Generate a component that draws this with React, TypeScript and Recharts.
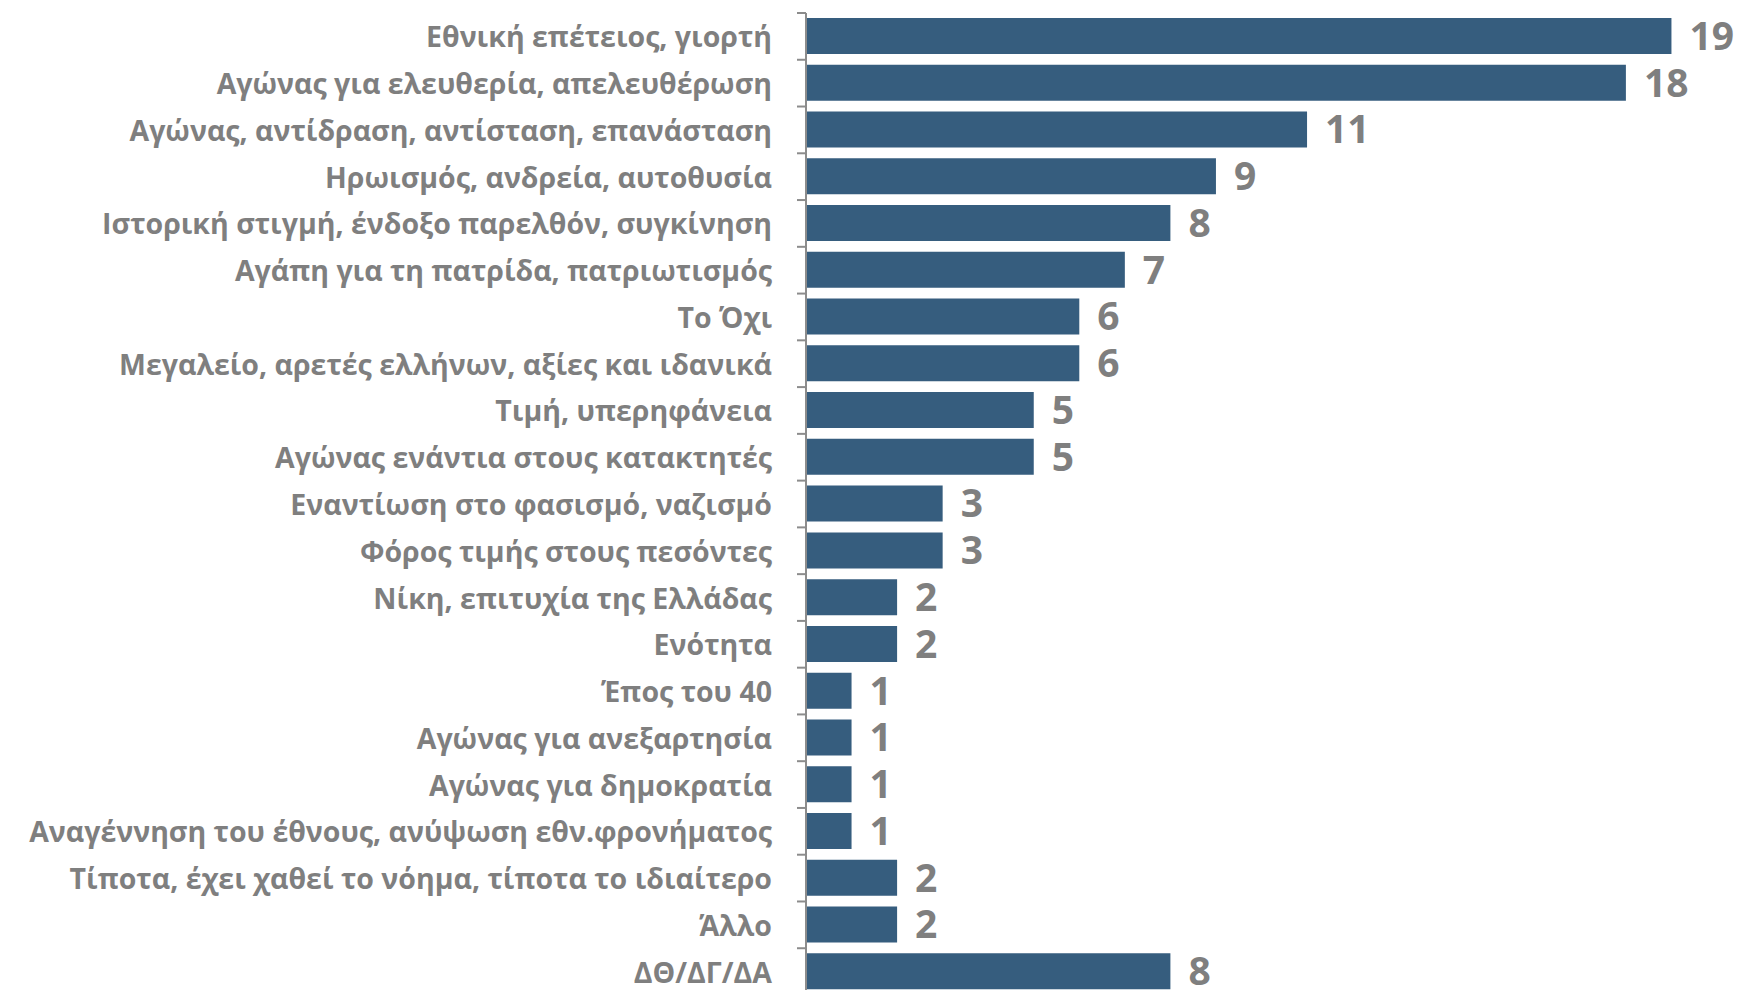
import { BarChart, Bar, XAxis, YAxis, LabelList } from 'recharts'

const categories = [
  'Εθνική επέτειος, γιορτή',
  'Αγώνας για ελευθερία, απελευθέρωση',
  'Αγώνας, αντίδραση, αντίσταση, επανάσταση',
  'Ηρωισμός, ανδρεία, αυτοθυσία',
  'Ιστορική στιγμή, ένδοξο παρελθόν, συγκίνηση',
  'Αγάπη για τη πατρίδα, πατριωτισμός',
  'Το Όχι',
  'Μεγαλείο, αρετές ελλήνων, αξίες και ιδανικά',
  'Τιμή, υπερηφάνεια',
  'Αγώνας ενάντια στους κατακτητές',
  'Εναντίωση στο φασισμό, ναζισμό',
  'Φόρος τιμής στους πεσόντες',
  'Νίκη, επιτυχία της Ελλάδας',
  'Ενότητα',
  'Έπος του 40',
  'Αγώνας για ανεξαρτησία',
  'Αγώνας για δημοκρατία',
  'Αναγέννηση του έθνους, ανύψωση εθν.φρονήματος',
  'Τίποτα, έχει χαθεί το νόημα, τίποτα το ιδιαίτερο',
  'Άλλο',
  'ΔΘ/ΔΓ/ΔΑ',
]

const values = [19, 18, 11, 9, 8, 7, 6, 6, 5, 5, 3, 3, 2, 2, 1, 1, 1, 1, 2, 2, 8]

const data = categories.map((name, i) => ({ name, value: values[i] }))

const BAR_COLOR = '#365d7e'
const TEXT_COLOR = '#7f7f7f'
const AXIS_COLOR = '#8c8c8c'
const FONT = '"Open Sans", sans-serif'
const AXIS_X = 806
const HALF_BAND = 982 / 21 / 2

function CategoryTick(props: any) {
  const { y, payload } = props
  return (
    <g>
      <line
        x1={AXIS_X - 9}
        x2={AXIS_X}
        y1={y - HALF_BAND}
        y2={y - HALF_BAND}
        stroke={AXIS_COLOR}
        strokeWidth={2}
      />
      <text
        x={AXIS_X - 34}
        y={y}
        textAnchor="end"
        dominantBaseline="central"
        fill={TEXT_COLOR}
        fontFamily={FONT}
        fontWeight={700}
        fontSize={28.5}
      >
        {payload.value}
      </text>
    </g>
  )
}

export default function App() {
  return (
    <div style={{ position: 'absolute', left: 0, top: 0, width: 1741, height: 990, overflow: 'hidden', background: '#fff' }}>
      <BarChart
        width={1741}
        height={1000}
        data={data}
        layout="vertical"
        margin={{ top: 13, right: 24, bottom: 5, left: 0 }}
      >
        <XAxis type="number" domain={[0, 20]} hide />
        <YAxis
          type="category"
          dataKey="name"
          width={AXIS_X}
          interval={0}
          tickLine={false}
          axisLine={{ stroke: AXIS_COLOR, strokeWidth: 2 }}
          tick={<CategoryTick />}
        />
        <Bar dataKey="value" fill={BAR_COLOR} barSize={36} isAnimationActive={false}>
          <LabelList
            dataKey="value"
            position="right"
            offset={18}
            fill={TEXT_COLOR}
            fontFamily={FONT}
            fontWeight={700}
            fontSize={39}
          />
        </Bar>
      </BarChart>
    </div>
  )
}
